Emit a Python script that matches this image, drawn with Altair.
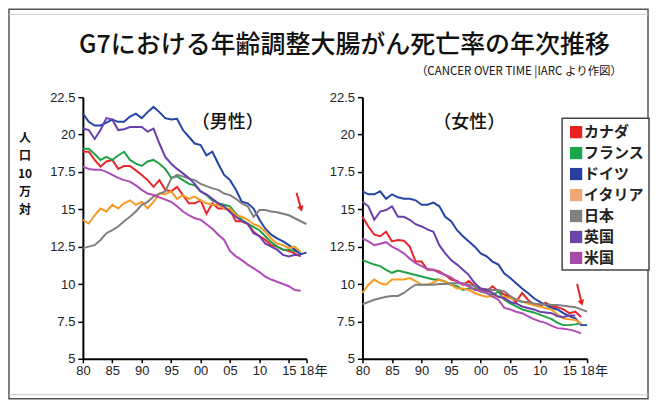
import altair as alt
import pandas as pd

countries = ["カナダ", "フランス", "ドイツ", "イタリア", "日本", "英国", "米国"]
start_year = 1980

men = {
    "カナダ": [18.85, 18.85, 18.3, 17.85, 18.2, 18.3, 17.7, 17.9, 17.9, 17.6, 17.3, 16.95, 16.5, 16.95, 16.3, 16.2, 16.5, 15.95, 15.4, 15.4,
              15.6, 14.7, 15.4, 15.05, 15.05, 14.95, 14.2, 14.2, 14.0, 13.5, 13.2, 12.95, 12.6, 12.5, 12.3, 12.2, 12.05, 11.85],
    "フランス": [19.05, 19.05, 18.7, 18.3, 18.5, 18.3, 18.6, 18.85, 18.3, 18.05, 17.9, 18.2, 18.3, 18.05, 17.7, 17.1, 17.2, 16.95, 16.7, 16.6,
               16.2, 15.95, 15.6, 15.4, 15.3, 15.2, 14.7, 14.3, 14.05, 13.8, 13.6, 13.2, 12.8, 12.5, 12.3, 12.3, 12.2, 12.15],
    "ドイツ": [21.4, 20.85, 20.6, 20.6, 20.8, 21.0, 20.85, 20.85, 21.2, 21.4, 21.1, 21.5, 21.85, 21.5, 21.1, 21.0, 21.05, 20.3, 19.85, 19.4,
              19.3, 18.6, 18.85, 18.05, 17.3, 16.95, 16.3, 15.5, 15.4, 15.05, 14.3, 13.7, 13.3, 13.05, 12.85, 12.6, 12.3, 12.0, 12.1],
    "イタリア": [14.3, 14.05, 14.6, 15.05, 14.85, 15.3, 15.05, 15.4, 15.6, 15.3, 15.5, 15.05, 15.5, 16.05, 16.0, 16.2, 15.7, 15.95, 15.7, 15.85,
               15.6, 15.4, 15.3, 15.3, 15.05, 15.05, 14.6, 14.5, 14.3, 14.0, 13.85, 13.5, 13.05, 12.7, 12.6, 12.4, 12.5, 12.15],
    "日本": [12.4, 12.5, 12.6, 12.95, 13.4, 13.6, 13.85, 14.2, 14.5, 14.85, 15.3, 15.5, 15.85, 16.05, 16.2, 17.05, 17.3, 17.2, 17.05, 16.95,
            16.7, 16.55, 16.4, 16.3, 16.05, 15.95, 15.7, 15.4, 15.2, 14.5, 14.95, 14.95, 14.85, 14.8, 14.7, 14.6, 14.4, 14.2, 14.0],
    "英国": [20.4, 20.3, 19.7, 20.3, 21.1, 21.0, 20.3, 20.35, 20.5, 20.5, 20.5, 20.2, 20.4, 19.4, 18.5, 18.05, 17.7, 17.4, 17.1, 16.7,
            16.2, 16.0, 15.7, 15.4, 15.2, 14.8, 14.5, 14.2, 14.05, 13.4, 13.2, 12.7, 12.5, 12.3, 11.95, 11.85, 11.95, 11.9],
    "米国": [17.85, 17.7, 17.65, 17.65, 17.5, 17.3, 17.1, 16.95, 16.85, 16.6, 16.3, 16.05, 15.95, 15.8, 15.65, 15.5, 15.2, 14.85, 14.6, 14.4,
            14.3, 14.0, 13.7, 13.3, 12.95, 12.2, 11.85, 11.6, 11.3, 11.05, 10.8, 10.5, 10.3, 10.15, 10.0, 9.85, 9.6, 9.55],
}

women = {
    "カナダ": [14.5, 13.85, 13.3, 13.2, 13.5, 12.85, 12.95, 12.9, 12.5, 11.5, 11.5, 10.95, 10.95, 10.85, 10.6, 10.3, 10.2, 9.95, 10.2, 9.85,
              9.6, 9.5, 9.85, 9.5, 9.3, 9.15, 8.8, 9.4, 8.95, 8.6, 8.5, 8.75, 8.5, 8.45, 8.3, 8.05, 8.15, 7.8],
    "フランス": [11.6, 11.45, 11.3, 11.2, 10.95, 10.75, 10.9, 10.8, 10.7, 10.6, 10.5, 10.4, 10.3, 10.3, 10.15, 9.95, 9.85, 9.6, 9.7, 9.7,
               9.5, 9.4, 9.25, 9.5, 8.95, 8.7, 8.5, 8.3, 8.2, 8.1, 7.95, 7.8, 7.65, 7.4, 7.25, 7.25, 7.3, 7.4],
    "ドイツ": [16.2, 16.0, 16.0, 16.2, 15.7, 16.0, 15.8, 15.7, 15.7, 15.6, 15.3, 15.3, 15.45, 15.2, 14.5, 14.2, 13.6, 13.2, 12.85, 12.5,
              12.05, 11.85, 11.5, 11.3, 10.7, 10.4, 10.05, 9.7, 9.4, 9.05, 8.8, 8.6, 8.4, 8.3, 8.05, 7.85, 7.7, 7.25, 7.25],
    "イタリア": [9.4, 9.95, 10.3, 10.05, 9.95, 10.3, 10.3, 10.3, 10.4, 10.2, 9.95, 9.95, 10.1, 10.3, 10.15, 9.95, 9.7, 9.7, 9.6, 9.4,
               9.25, 9.15, 9.2, 9.15, 9.15, 9.05, 8.95, 8.85, 8.7, 8.6, 8.5, 8.4, 8.3, 7.95, 7.7, 7.65, 7.6, 7.35],
    "日本": [8.65, 8.8, 8.95, 9.05, 9.15, 9.2, 9.2, 9.4, 9.7, 9.95, 9.95, 9.95, 9.95, 10.0, 10.0, 10.05, 10.05, 10.05, 9.95, 9.85,
            9.7, 9.65, 9.6, 9.6, 9.5, 9.2, 8.95, 8.8, 8.8, 8.7, 8.65, 8.65, 8.6, 8.6, 8.55, 8.5, 8.45, 8.3, 8.15],
    "英国": [15.5, 15.2, 14.3, 14.85, 14.95, 15.2, 14.5, 14.5, 14.3, 14.0, 13.85, 13.65, 13.5, 12.6, 12.05, 11.6, 11.3, 10.95, 10.6, 10.05,
            9.7, 9.6, 9.4, 9.15, 9.05, 8.8, 8.7, 8.5, 8.4, 8.3, 8.15, 8.1, 8.05, 7.85, 7.8, 7.9, 7.9],
    "米国": [13.05, 12.85, 12.6, 12.7, 12.8, 12.5, 12.3, 12.05, 11.7, 11.4, 11.2, 11.0, 10.95, 10.75, 10.6, 10.45, 10.15, 10.0, 9.85, 9.6,
            9.55, 9.4, 9.15, 8.95, 8.4, 8.3, 8.15, 8.05, 7.85, 7.65, 7.5, 7.4, 7.2, 7.05, 7.0, 6.95, 6.85, 6.7],
}

x_ticks = [1980, 1985, 1990, 1995, 2000, 2005, 2010, 2015, 2018]
y_ticks = [5, 7.5, 10, 12.5, 15, 17.5, 20, 22.5]
y_title_lines = ["人", "口", "10", "万", "対"]

line_colors = ["#e8262b", "#22a046", "#2544a8", "#f59b24", "#7f7f7f", "#6a3fae", "#b04cb8"]
swatch_colors = ["#e82020", "#1aa64a", "#2a3e9e", "#f0a878", "#808080", "#6a44a8", "#a64aa8"]

JP = "Noto Sans CJK JP"
NUM = "Liberation Sans"


def long_df(d):
    rows = []
    for c in countries:
        for i, v in enumerate(d[c]):
            rows.append({"year": start_year + i, "rate": v, "country": c})
    return pd.DataFrame(rows)


def one(text):
    return alt.Chart(pd.DataFrame({"t": [text]}))


x_label_expr = ("datum.value == 2018 ? '18' : (datum.value % 100 < 10 ? '0' + (datum.value % 100) "
                ": '' + (datum.value % 100))")


def base_lines(df):
    return alt.Chart(df).mark_line(strokeWidth=2).encode(
        x=alt.X("year:Q", scale=alt.Scale(domain=[1980, 2018], nice=False, zero=False),
                axis=alt.Axis(values=x_ticks, labelExpr=x_label_expr, title=None, labelFlush=False,
                              labelOverlap=False, tickSize=4, labelPadding=2)),
        y=alt.Y("rate:Q", scale=alt.Scale(domain=[5, 22.5], nice=False, zero=False),
                axis=alt.Axis(values=y_ticks, format=".1~f", title=None, tickSize=5, labelPadding=3,
                              labelFlush=False, labelOverlap=False)),
        color=alt.Color("country:N", scale=alt.Scale(domain=countries, range=line_colors), legend=None),
        order=alt.Order("year:Q"),
    )


def text_layer(text, x, y, size, align="center", baseline="middle", weight="normal", font=JP, color="#111", **kw):
    return one(text).mark_text(align=align, baseline=baseline, fontSize=size, fontWeight=weight,
                               font=font, color=color, **kw).encode(
        x=alt.value(x), y=alt.value(y), text="t:N")


def arrow(x1, y1, x2, y2):
    shaft = one("a").mark_rule(color="#e8201c", strokeWidth=2).encode(
        x=alt.value(x1), y=alt.value(y1), x2=alt.value(x2), y2=alt.value(y2))
    head = one("a").mark_point(shape="triangle-down", filled=True, size=45, color="#e8201c",
                               opacity=1, angle=345).encode(x=alt.value(x2 + 0.5), y=alt.value(y2 + 2))
    return shaft + head


W_L, W_R, H = 224, 225, 262

# Left panel (men)
frame = one("f").mark_rect(fill="transparent", stroke="#555", strokeWidth=1.5).encode(
    x=alt.value(-74), x2=alt.value(566), y=alt.value(-88), y2=alt.value(302))
inner_top = one("f").mark_rule(color="#c8c8c8", strokeWidth=1).encode(
    x=alt.value(-74), x2=alt.value(566), y=alt.value(-83), y2=alt.value(-83))
inner_bot = one("f").mark_rule(color="#c8c8c8", strokeWidth=1).encode(
    x=alt.value(-74), x2=alt.value(566), y=alt.value(298), y2=alt.value(298))

y_title_layers = [
    text_layer(t, -58, 41 + 18 * i, 12, weight="bold")
    for i, t in enumerate(y_title_lines)
]

left = alt.layer(
    frame, inner_top, inner_bot,
    base_lines(long_df(men)),
    text_layer("G7における年齢調整大腸がん死亡率の年次推移", 262, -52, 25, weight=500),
    text_layer("（CANCER OVER TIME |IARC  より作図）", 540, -25, 11.5, align="right"),
    text_layer("（男性）", 145, 26, 18, weight=500),
    *y_title_layers,
    text_layer("年", W_L + 8, 268, 13, align="left", baseline="top", color="#222"),
    arrow(214, 96, 218, 110),
).properties(width=W_L, height=H)

# Right panel (women) with a hand-made legend
leg_df = pd.DataFrame({"country": countries, "swatch": swatch_colors})
leg_y = alt.Y("country:N", scale=alt.Scale(domain=countries, range=[35, 161], padding=0), axis=None)
leg_box = one("b").mark_rect(fill="white", stroke="#444", strokeWidth=1.5).encode(
    x=alt.value(200), x2=alt.value(287), y=alt.value(21), y2=alt.value(173))
leg_sw = alt.Chart(leg_df).mark_square(size=150, opacity=1).encode(
    x=alt.value(214), y=leg_y, color=alt.Color("swatch:N", scale=None))
leg_tx = alt.Chart(leg_df).mark_text(align="left", baseline="middle", fontSize=15, fontWeight="bold",
                                     font=JP, color="#222").encode(
    x=alt.value(222), y=leg_y, text="country:N")

right = alt.layer(
    base_lines(long_df(women)),
    text_layer("（女性）", 107, 26, 18, weight=500),
    text_layer("年", W_R + 8, 268, 13, align="left", baseline="top", color="#222"),
    arrow(215, 187, 219, 204),
    leg_box, leg_sw, leg_tx,
).resolve_scale(y="independent").properties(width=W_R, height=H)

chart = alt.hconcat(left, right, spacing=56, bounds="flush").properties(
    padding=0, background="white"
).configure_view(stroke=None).configure_axis(
    domainColor="#000", domainWidth=2, tickColor="#000", tickWidth=1.5, grid=False,
    labelFont=NUM, labelFontSize=13, labelColor="#222"
)

chart.save("out.html", embed_options={"renderer": "svg", "actions": False})
